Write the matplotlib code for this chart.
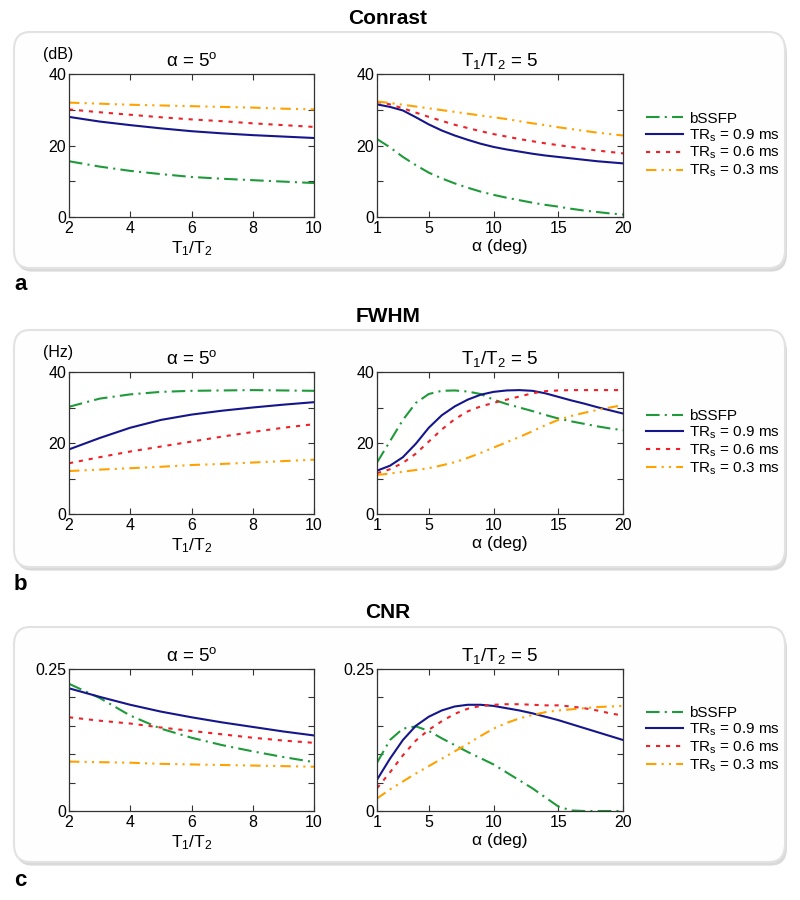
import numpy as np
import matplotlib
matplotlib.use('Agg')
import matplotlib.pyplot as plt
from matplotlib.patches import FancyBboxPatch

plt.rcParams['font.family'] = ['Liberation Sans', 'DejaVu Sans']
plt.rcParams['mathtext.fontset'] = 'custom'
plt.rcParams['mathtext.rm'] = 'Liberation Sans'
plt.rcParams['mathtext.it'] = 'Liberation Sans:italic'

# x values
t_ratio = [2, 3, 4, 5, 6, 7, 8, 9, 10]
alpha = list(range(1, 21))

series_names = ['bSSFP', 'TR$_\\mathrm{s}$ = 0.9 ms', 'TR$_\\mathrm{s}$ = 0.6 ms', 'TR$_\\mathrm{s}$ = 0.3 ms']

# Contrast (dB)
con_t_bssfp = [15.6, 14.1, 12.9, 12.0, 11.2, 10.7, 10.3, 9.9, 9.5]
con_t_tr09 = [28.0, 26.7, 25.7, 24.8, 24.0, 23.4, 22.9, 22.5, 22.1]
con_t_tr06 = [30.1, 29.3, 28.6, 27.9, 27.3, 26.8, 26.2, 25.7, 25.2]
con_t_tr03 = [32.0, 31.7, 31.4, 31.2, 31.0, 30.8, 30.6, 30.3, 30.1]

con_a_bssfp = [21.8, 19.5, 16.8, 14.5, 12.4, 10.8, 9.4, 8.2, 7.1, 6.2,
               5.4, 4.7, 4.0, 3.4, 2.9, 2.3, 1.8, 1.4, 1.0, 0.7]
con_a_tr09 = [31.5, 30.8, 29.8, 27.9, 25.9, 24.2, 22.8, 21.6, 20.5, 19.6,
              18.9, 18.3, 17.7, 17.2, 16.8, 16.4, 16.0, 15.6, 15.3, 15.0]
con_a_tr06 = [32.2, 31.5, 30.4, 29.2, 28.0, 26.9, 25.8, 24.9, 24.0, 23.2,
              22.5, 21.8, 21.2, 20.6, 20.1, 19.6, 19.1, 18.6, 18.2, 17.8]
con_a_tr03 = [32.3, 31.9, 31.4, 30.9, 30.4, 29.9, 29.4, 28.9, 28.4, 27.9,
              27.4, 26.8, 26.2, 25.7, 25.1, 24.6, 24.1, 23.6, 23.2, 22.8]

# FWHM (Hz)
fw_t_bssfp = [30.2, 32.5, 33.7, 34.4, 34.7, 34.8, 34.9, 34.8, 34.7]
fw_t_tr09 = [18.2, 21.4, 24.3, 26.5, 28.0, 29.1, 30.0, 30.8, 31.5]
fw_t_tr06 = [14.3, 16.0, 17.6, 19.0, 20.4, 21.8, 23.1, 24.3, 25.3]
fw_t_tr03 = [12.1, 12.5, 12.9, 13.3, 13.8, 14.1, 14.5, 14.9, 15.3]

fw_a_bssfp = [14.5, 20.5, 26.5, 31.3, 33.8, 34.7, 34.8, 34.5, 33.8, 32.2,
              31.0, 30.0, 29.0, 27.9, 26.9, 26.1, 25.4, 24.7, 24.1, 23.6]
fw_a_tr09 = [12.2, 13.6, 16.0, 19.8, 24.3, 27.8, 30.3, 32.2, 33.6, 34.4,
             34.8, 34.9, 34.7, 34.0, 33.0, 32.0, 31.1, 30.1, 29.2, 28.3]
fw_a_tr06 = [11.5, 12.6, 14.4, 17.0, 20.4, 23.8, 26.7, 28.9, 30.3, 31.3,
             32.2, 33.1, 34.0, 34.6, 34.8, 34.9, 34.9, 34.9, 34.9, 34.9]
fw_a_tr03 = [11.0, 11.4, 11.9, 12.4, 12.9, 13.7, 14.6, 15.8, 17.2, 18.7,
             20.2, 21.7, 23.3, 25.0, 26.5, 27.6, 28.5, 29.3, 30.0, 30.7]

# CNR
cnr_t_bssfp = [0.224, 0.199, 0.168, 0.145, 0.129, 0.116, 0.105, 0.095, 0.086]
cnr_t_tr09 = [0.216, 0.201, 0.187, 0.175, 0.165, 0.156, 0.148, 0.140, 0.133]
cnr_t_tr06 = [0.165, 0.159, 0.154, 0.147, 0.141, 0.135, 0.129, 0.124, 0.120]
cnr_t_tr03 = [0.087, 0.086, 0.085, 0.083, 0.082, 0.081, 0.080, 0.079, 0.078]

cnr_a_bssfp = [0.085, 0.125, 0.145, 0.149, 0.141, 0.128, 0.116, 0.104, 0.093, 0.082,
               0.068, 0.054, 0.040, 0.024, 0.008, 0.001, 0.0, 0.0, 0.0, 0.0]
cnr_a_tr09 = [0.055, 0.092, 0.125, 0.150, 0.166, 0.177, 0.184, 0.187, 0.187, 0.185,
              0.181, 0.177, 0.172, 0.166, 0.160, 0.153, 0.146, 0.139, 0.132, 0.125]
cnr_a_tr06 = [0.040, 0.068, 0.098, 0.124, 0.143, 0.158, 0.171, 0.180, 0.185, 0.187,
              0.188, 0.188, 0.187, 0.186, 0.186, 0.184, 0.181, 0.177, 0.172, 0.168]
cnr_a_tr03 = [0.022, 0.038, 0.052, 0.066, 0.079, 0.092, 0.105, 0.118, 0.132, 0.145,
              0.155, 0.163, 0.169, 0.174, 0.177, 0.179, 0.181, 0.183, 0.184, 0.185]

colors = ['#1f9a3a', '#16168c', '#ee2228', '#ffa200']
styles = [(0, (6.5, 2.5, 1, 2.5)), '-', (0, (2, 2.8)), (0, (5, 2.5, 1, 2.5, 1, 2.5))]

panels = [
    dict(title='Conrast', letter='a', unit='(dB)',
         left=[con_t_bssfp, con_t_tr09, con_t_tr06, con_t_tr03],
         right=[con_a_bssfp, con_a_tr09, con_a_tr06, con_a_tr03],
         yticks=[0, 10, 20, 30, 40], ylabels=['0', '', '20', '', '40'], ymax=40,
         box=(32, 268), axy=(74, 217), ty=18, ly=285),
    dict(title='FWHM', letter='b', unit='(Hz)',
         left=[fw_t_bssfp, fw_t_tr09, fw_t_tr06, fw_t_tr03],
         right=[fw_a_bssfp, fw_a_tr09, fw_a_tr06, fw_a_tr03],
         yticks=[0, 10, 20, 30, 40], ylabels=['0', '', '20', '', '40'], ymax=40,
         box=(330, 567), axy=(372, 514), ty=317, ly=585),
    dict(title='CNR', letter='c', unit=None,
         left=[cnr_t_bssfp, cnr_t_tr09, cnr_t_tr06, cnr_t_tr03],
         right=[cnr_a_bssfp, cnr_a_tr09, cnr_a_tr06, cnr_a_tr03],
         yticks=[0, 0.05, 0.1, 0.15, 0.2, 0.25], ylabels=['0', '', '', '', '', '0.25'], ymax=0.25,
         box=(627, 862), axy=(669, 811), ty=613, ly=880),
]

W, H = 800, 900
fig = plt.figure(figsize=(8, 9), dpi=100)


def fx(px):
    return px / W


def fy(py):
    return 1 - py / H


def style_axes(ax, p):
    ax.set_ylim(0, p['ymax'])
    ax.set_yticks(p['yticks'])
    ax.set_yticklabels(p['ylabels'])
    ax.tick_params(direction='in', top=True, right=True, length=4, width=0.8,
                   labelsize=11.5, pad=2, color='#333333')
    ax.tick_params(axis='x', pad=3)
    for s in ax.spines.values():
        s.set_color('#333333')
        s.set_linewidth(0.9)


for p in panels:
    b0, b1 = p['box']
    # shadow + box
    fig.patches.append(FancyBboxPatch((fx(16), fy(b1) - 0.004), fx(771), (b1 - b0) / H,
                                      boxstyle='round,pad=0,rounding_size=0.02',
                                      transform=fig.transFigure, facecolor='#d9d9d9',
                                      edgecolor='none', zorder=-3))
    fig.patches.append(FancyBboxPatch((fx(14), fy(b1)), fx(771), (b1 - b0) / H,
                                      boxstyle='round,pad=0,rounding_size=0.02',
                                      transform=fig.transFigure, facecolor='#fefefe',
                                      edgecolor='#e2e2e2', linewidth=1.5, zorder=-2))
    fig.text(fx(388), fy(p['ty']), p['title'], ha='center', va='center',
             fontsize=15, fontweight='bold')
    fig.text(fx(14), fy(p['ly']), p['letter'], ha='left', va='center',
             fontsize=16, fontweight='bold')

    a0, a1 = p['axy']
    axl = fig.add_axes([fx(69), fy(a1), fx(245), (a1 - a0) / H])
    axr = fig.add_axes([fx(377), fy(a1), fx(246), (a1 - a0) / H])

    for vals, c, ls, name in zip(p['left'], colors, styles, series_names):
        axl.plot(t_ratio, vals, color=c, linestyle=ls, linewidth=1.5, label=name)
    for vals, c, ls, name in zip(p['right'], colors, styles, series_names):
        axr.plot(alpha, vals, color=c, linestyle=ls, linewidth=1.5, label=name)

    axl.set_xlim(2, 10)
    axl.set_xticks([2, 4, 6, 8, 10])
    axr.set_xlim(1, 20)
    axr.set_xticks([1, 5, 10, 15, 20])
    style_axes(axl, p)
    style_axes(axr, p)

    axl.set_title('\u03b1 = 5$^\\mathrm{o}$', fontsize=13.5, pad=6)
    axr.set_title('T$_1$/T$_2$ = 5', fontsize=13.5, pad=6)
    axl.set_xlabel('T$_1$/T$_2$', fontsize=12.5, labelpad=2)
    axr.set_xlabel('\u03b1 (deg)', fontsize=12.5, labelpad=2)
    if p['unit']:
        fig.text(fx(58), fy(a0 - 20), p['unit'], ha='center', va='center', fontsize=11.5)

    axr.legend(loc='center left', bbox_to_anchor=(1.07, 0.5), frameon=False,
               fontsize=11, handlelength=2.4, handletextpad=0.4, labelspacing=0.1,
               borderaxespad=0)

fig.savefig('out.png', dpi=100)
